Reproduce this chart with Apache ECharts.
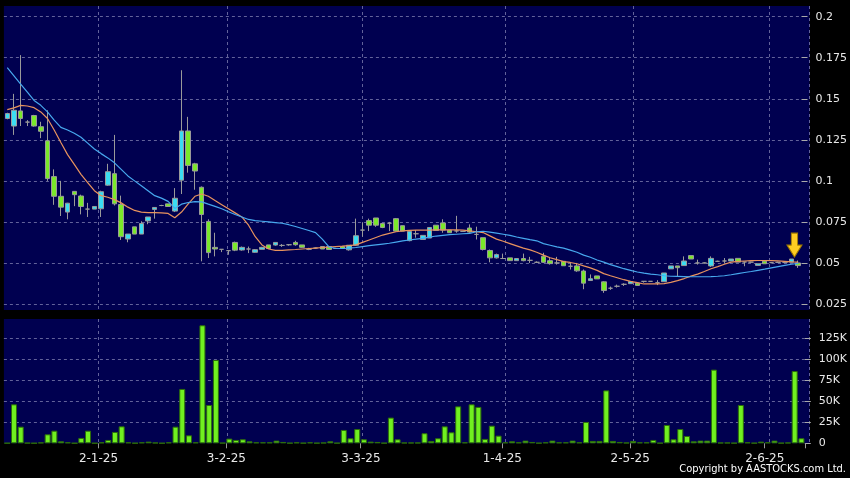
<!DOCTYPE html>
<html><head><meta charset="utf-8">
<script src="https://cdn.jsdelivr.net/npm/echarts@6/dist/echarts.min.js"></script>
<style>html,body{margin:0;padding:0;background:#000;}#c{width:850px;height:478px;}</style>
</head><body><div id="c"></div>
<script>
const dates = ['10-12-24','11-12-24','12-12-24','13-12-24','16-12-24','17-12-24','18-12-24','19-12-24','20-12-24','23-12-24','24-12-24','27-12-24','30-12-24','31-12-24',
'2-1-25','3-1-25','6-1-25','7-1-25','8-1-25','9-1-25','10-1-25','13-1-25','14-1-25','15-1-25','16-1-25','17-1-25','20-1-25','21-1-25','22-1-25','23-1-25','24-1-25','27-1-25','28-1-25',
'3-2-25','4-2-25','5-2-25','6-2-25','7-2-25','10-2-25','11-2-25','12-2-25','13-2-25','14-2-25','17-2-25','18-2-25','19-2-25','20-2-25','21-2-25','24-2-25','25-2-25','26-2-25','27-2-25','28-2-25',
'3-3-25','4-3-25','5-3-25','6-3-25','7-3-25','10-3-25','11-3-25','12-3-25','13-3-25','14-3-25','17-3-25','18-3-25','19-3-25','20-3-25','21-3-25','24-3-25','25-3-25','26-3-25','27-3-25','28-3-25','31-3-25',
'1-4-25','2-4-25','3-4-25','7-4-25','8-4-25','9-4-25','10-4-25','11-4-25','14-4-25','15-4-25','16-4-25','17-4-25','22-4-25','23-4-25','24-4-25','25-4-25','28-4-25','29-4-25','30-4-25',
'2-5-25','6-5-25','7-5-25','8-5-25','9-5-25','12-5-25','13-5-25','14-5-25','15-5-25','16-5-25','19-5-25','20-5-25','21-5-25','22-5-25','23-5-25','26-5-25','27-5-25','28-5-25','29-5-25','30-5-25',
'2-6-25','3-6-25','4-6-25','5-6-25','6-6-25','9-6-25'];
const labelDates = ['2-1-25','3-2-25','3-3-25','1-4-25','2-5-25','2-6-25'];

const openP = [.138,.1334,.1426,.1358,.1398,.133,.1244,.1026,.0906,.081,
.0936,.0908,.0828,.0828,.083,.0974,.1044,.0856,.0646,.072,
.0676,.0756,.0826,.085,.086,.0816,.1004,.1304,.1104,.0961,
.0753,.0595,.0583,.0575,.0625,.0579,.0585,.0565,.0583,.061,
.0609,.0607,.0611,.0625,.061,.0583,.0591,.06,.06,.0588,
.06,.058,.0608,.07,.0758,.0774,.074,.0742,.077,.0727,
.0636,.0678,.0643,.0652,.073,.0744,.07,.0695,.0692,.0713,
.0674,.0654,.0576,.0531,.0527,.0531,.0514,.0527,.0516,.0504,
.0541,.0514,.05,.051,.048,.0482,.0451,.0393,.0421,.0385,
.0346,.0358,.037,.0374,.0377,.0388,.0388,.038,.0386,.0464,
.0482,.0484,.0545,.05,.05,.0482,.051,.0512,.0512,.0528,
.0506,.0505,.0485,.0511,.0502,.0504,.0504,.0505,.05];
const closeP = [.141,.143,.138,.1358,.1334,.1302,.1014,.0906,.084,.0864,
.0916,.0844,.0828,.0844,.0934,.1056,.086,.066,.0676,.0676,
.074,.078,.0838,.085,.0844,.0894,.1304,.1094,.106,.0795,
.0563,.0585,.0583,.0575,.0578,.0595,.0585,.0581,.0595,.0588,
.0625,.0607,.0611,.0611,.0595,.0583,.0591,.0585,.0582,.0588,
.0588,.0608,.0666,.07,.073,.073,.0716,.0742,.0694,.0694,
.0692,.0678,.0668,.0716,.0698,.07,.0684,.0695,.0692,.0688,
.0674,.0582,.0531,.0551,.0527,.0514,.0527,.0514,.0516,.0504,
.0504,.0496,.05,.0483,.048,.0452,.0377,.0404,.0403,.0332,
.0346,.0358,.037,.0387,.0363,.0388,.0388,.038,.0439,.0482,
.0471,.0512,.0524,.05,.05,.0528,.051,.0512,.0524,.0505,
.0506,.0505,.0495,.0495,.0502,.0504,.0504,.0524,.0484];
const lowP = [.1375,.128,.1334,.1334,.133,.126,.100,.0854,.0786,.0766,
.0846,.0796,.078,.0828,.078,.097,.085,.064,.0626,.0676,
.0676,.0736,.077,.0846,.0844,.081,.092,.105,.0946,.051,
.053,.054,.0566,.055,.0572,.0575,.056,.0562,.0583,.0585,
.0605,.0598,.0605,.0605,.0592,.0578,.0588,.0585,.058,.0585,
.0585,.0575,.0605,.066,.0694,.072,.0712,.0694,.0692,.0694,
.0632,.0654,.0643,.0652,.0698,.0684,.0684,.0684,.069,.0684,
.0643,.0576,.0504,.0527,.0527,.0514,.0514,.051,.05,.05,
.05,.049,.049,.0483,.046,.0446,.034,.039,.0403,.0318,
.0336,.035,.036,.0374,.0363,.038,.0385,.0365,.0386,.0464,
.042,.0484,.0524,.049,.0498,.0476,.0506,.05,.0512,.0505,
.048,.0502,.0485,.0495,.0498,.05,.0502,.0505,.047];
const highP = [.1415,.153,.1766,.137,.1402,.136,.143,.107,.100,.0866,
.0936,.0916,.0866,.0844,.094,.1104,.128,.091,.0676,.072,
.0754,.078,.0838,.0854,.086,.0956,.1674,.139,.111,.0966,
.0766,.0684,.0583,.0578,.063,.06,.06,.0585,.0598,.061,
.0625,.0615,.0615,.0635,.061,.0592,.0594,.06,.0602,.0592,
.0604,.0608,.077,.0745,.077,.0774,.0742,.075,.0774,.0727,
.0695,.07,.0668,.0716,.073,.0766,.07,.0787,.0695,.0735,
.0721,.0654,.0582,.0557,.0557,.0531,.0527,.0557,.0537,.051,
.0562,.053,.0537,.051,.05,.05,.046,.043,.0421,.0388,
.0356,.0368,.0376,.0387,.0377,.039,.039,.0395,.0439,.0482,
.0482,.054,.0545,.052,.0504,.054,.0514,.053,.0524,.0528,
.0506,.0508,.0495,.0511,.0506,.0508,.0506,.0524,.0515];
const volumeK = [0.3,46.4,19.8,0.5,0.2,1,10.7,15,2.4,1.2,
0.2,6.4,15,0.2,1.2,4,13.5,20.2,1.2,0.3,
1.2,2,0.8,0.2,1.2,19.8,64.7,9.5,1.2,140.5,
45.6,99.2,0.5,5.6,4,4.8,2.4,1.2,1.2,1.2,
3.2,1.6,0.4,1.2,0.4,1.2,0.4,0.8,2.4,0.4,
15.9,6,17,4.8,2,1.6,0.4,30.6,4.8,0.8,
0.8,0.8,12,2.8,6,20.2,13.1,44,1.2,46.4,
43.3,5.2,21,9.1,1.2,2.4,1.2,3.2,1.6,0.4,
1.2,3.2,1.2,1.2,3.2,1.2,25.4,2.8,2.8,63,
2.8,1.6,0.8,2.8,1.2,1.2,4,0.4,21.8,4.8,
17,8.7,2.4,3.2,3.2,87.7,0.8,0.8,0.4,45.6,
1.2,0.4,2,1.2,3.2,0.4,0.8,86,6];
const ma10 = [.1434,.1445,.146,.1456,.1446,.142,.138,.131,.1234,.116,
.11,.104,.099,.094,.091,.09,.0886,.0866,.084,.082,
.081,.0806,.0806,.0805,.0802,.0775,.081,.086,.0906,.092,
.0906,.088,.0855,.083,.0805,.078,.073,.066,.061,.0585,
.0577,.0577,.058,.0582,.0585,.0588,.059,.0594,.0597,.06,
.0602,.0605,.061,.0625,.064,.0655,.067,.068,.069,.0695,
.0698,.07,.07,.07,.0702,.0702,.0702,.0702,.07,.0695,
.069,.0685,.0665,.0645,.0632,.0618,.0604,.059,.058,.0565,
.0548,.0532,.052,.0508,.0503,.0495,.0482,.047,.0455,.0435,
.0422,.041,.0398,.0388,.038,.0372,.0372,.0372,.0374,.0382,
.0392,.0405,.042,.0432,.0448,.0465,.0478,.0492,.0505,.051,
.0512,.0514,.0515,.0515,.0514,.0513,.051,.0507,.0505];
const ma20 = [.169,.164,.159,.154,.149,.146,.142,.137,.1326,.131,
.129,.1266,.123,.1194,.1166,.114,.111,.107,.103,.100,
.097,.094,.091,.0895,.0875,.0832,.0858,.0868,.0874,.0872,
.0858,.0845,.083,.0812,.0795,.078,.0765,.0758,.0754,.075,
.0746,.0742,.0733,.0722,.071,.0698,.0685,.0645,.0598,.0588,
.0588,.059,.0594,.06,.0605,.061,.0615,.062,.0627,.0634,
.064,.0645,.065,.0657,.0664,.0668,.0672,.0675,.0678,.068,
.069,.0693,.0688,.0682,.0675,.0668,.0658,.065,.0642,.0635,
.0618,.0608,.0598,.059,.0578,.0565,.0548,.0535,.0518,.0505,
.049,.0478,.0465,.0455,.0445,.0438,.0432,.0428,.0422,.0419,
.0418,.0417,.0416,.0416,.0416,.0417,.0419,.0422,.0428,.0435,
.0442,.0448,.0455,.0462,.047,.0478,.0485,.0492,.0498];
const arrowDate = '6-6-25';
const priceAxis = {min: 0.025, max: 0.2, step: 0.025};
const volAxis = {min: 0, max: 150, step: 25};

const chart = echarts.init(document.getElementById('c'), null, {renderer: 'canvas', width: 850, height: 478});
const NAVY = '#000050', GRIDC = '#62629a', FONT = 'DejaVu Sans', TXT = '#e8e8e8';
const isLabel = (i, v) => labelDates.indexOf(v) >= 0;
const L = 3.9, W = 805.6;
const vline = gi => ({type: 'category', gridIndex: gi, data: dates, axisLine: {show: false}, axisTick: {show: false},
  axisLabel: {show: false}, splitLine: {show: true, interval: isLabel, lineStyle: {color: GRIDC, type: [3, 3]}}});
const ai = dates.indexOf(arrowDate);
chart.setOption({
  backgroundColor: '#000',
  animation: false,
  grid: [
    {left: L, width: W, top: 16.7, height: 287.3},
    {left: L, width: W, top: 317.3, height: 126},
    {left: L, width: W, top: 6, height: 304, show: true, backgroundColor: NAVY, borderWidth: 0},
    {left: L, width: W, top: 319, height: 124.3, show: true, backgroundColor: NAVY, borderWidth: 0}
  ],
  xAxis: [
    {type: 'category', gridIndex: 0, data: dates, axisLine: {show: false}, axisTick: {show: false}, axisLabel: {show: false}, splitLine: {show: false}},
    {type: 'category', gridIndex: 1, data: dates, axisLine: {show: false},
      axisTick: {show: true, interval: isLabel, length: 5, lineStyle: {color: '#999'}},
      axisLabel: {interval: isLabel, color: TXT, fontSize: 12, fontFamily: FONT, margin: 10, padding: [0, 6, 0, 0]},
      splitLine: {show: false}},
    vline(2), vline(3)
  ],
  yAxis: [
    {type: 'value', gridIndex: 0, position: 'right', min: priceAxis.min, max: priceAxis.max, interval: priceAxis.step,
      axisLine: {show: false}, axisTick: {show: true, length: 6, lineStyle: {color: '#aaa'}},
      axisLabel: {color: TXT, fontSize: 11, fontFamily: FONT, margin: 14},
      splitLine: {show: true, lineStyle: {color: GRIDC, type: [3, 3]}}},
    {type: 'value', gridIndex: 1, position: 'right', min: volAxis.min, max: volAxis.max, interval: volAxis.step,
      axisLine: {show: false}, axisTick: {show: true, length: 6, lineStyle: {color: '#aaa'}},
      axisLabel: {color: TXT, fontSize: 11, fontFamily: FONT, margin: 14, showMaxLabel: false,
        formatter: v => v === 0 ? '0' : v + 'K'},
      splitLine: {show: true, showMaxLine: false, showMinLine: false, lineStyle: {color: GRIDC, type: [3, 3]}}},
    {type: 'value', gridIndex: 2, show: false},
    {type: 'value', gridIndex: 3, show: false}
  ],
  series: [
    {type: 'candlestick', xAxisIndex: 0, yAxisIndex: 0, barWidth: 5,
      data: dates.map((d, i) => [openP[i], closeP[i], lowP[i], highP[i]]),
      itemStyle: {color: '#3adcf2', color0: '#7ae82a', borderColor: '#9a9a9a', borderColor0: '#9a9a9a', borderColorDoji: '#9a9a9a', borderWidth: 1},
      markPoint: {
        symbol: 'path://M4,0 L10,0 L10,12 L14,12 L7,24 L0,12 L4,12 Z', symbolSize: [15, 24], symbolOffset: [3, -14],
        label: {show: false}, itemStyle: {color: '#ffcc22', borderColor: '#a07800', borderWidth: 1},
        data: [{coord: [arrowDate, highP[ai]]}]
      }},
    {type: 'line', xAxisIndex: 0, yAxisIndex: 0, data: ma10, symbol: 'none', lineStyle: {color: '#e8935e', width: 1.2}, itemStyle: {color: '#e8935e'}},
    {type: 'line', xAxisIndex: 0, yAxisIndex: 0, data: ma20, symbol: 'none', lineStyle: {color: '#47a8ee', width: 1.2}, itemStyle: {color: '#47a8ee'}},
    {type: 'bar', xAxisIndex: 1, yAxisIndex: 1, data: volumeK, barWidth: 6,
      itemStyle: {color: '#70f020', borderColor: '#2d6e0a', borderWidth: 1}}
  ],
  graphic: [
    {type: 'text', right: 4, top: 464, style: {text: 'Copyright by AASTOCKS.com Ltd.', fill: '#ffffff', fontSize: 11, fontFamily: 'DejaVu Sans Condensed'}}
  ]
});
</script>
</body></html>
